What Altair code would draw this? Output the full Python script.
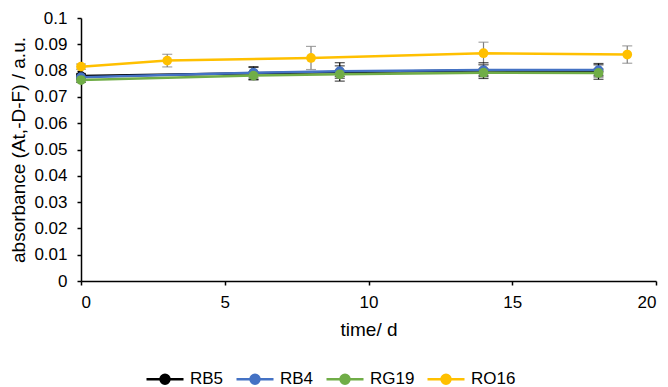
import altair as alt
import pandas as pd

series_names = ["RB5", "RB4", "RG19", "RO16"]
series_colors = ["#000000", "#4472C4", "#70AD47", "#FFC000"]
err_colors = ["#000000", "#000000", "#000000", "#7F7F7F"]

time_rb = [0, 6, 9, 14, 18]
time_ro = [0, 3, 8, 14, 19]

rb5 = [0.0779, 0.0790, 0.0795, 0.0800, 0.0797]
rb5_err = [0.0010, 0.0025, 0.0035, 0.0030, 0.0030]
rb4 = [0.0775, 0.0792, 0.0798, 0.0802, 0.0802]
rb4_err = [0.0010, 0.0020, 0.0020, 0.0020, 0.0020]
rg19 = [0.0764, 0.0781, 0.0786, 0.0792, 0.0791]
rg19_err = [0.0008, 0.0015, 0.0015, 0.0015, 0.0015]
ro16 = [0.0815, 0.0838, 0.0848, 0.0866, 0.0861]
ro16_err = [0.0010, 0.0024, 0.0044, 0.0042, 0.0033]

rows = []
for name, t, v, e, ec in [
    ("RB5", time_rb, rb5, rb5_err, err_colors[0]),
    ("RB4", time_rb, rb4, rb4_err, err_colors[1]),
    ("RG19", time_rb, rg19, rg19_err, err_colors[2]),
    ("RO16", time_ro, ro16, ro16_err, err_colors[3]),
]:
    for ti, vi, ei in zip(t, v, e):
        rows.append({"series": name, "time": ti, "value": vi,
                     "lo": vi - ei, "hi": vi + ei, "ecol": ec})
df = pd.DataFrame(rows)

color_scale = alt.Scale(domain=series_names, range=series_colors)
x_scale = alt.Scale(domain=[0, 20])
y_scale = alt.Scale(domain=[0, 0.1])
x_axis = alt.Axis(values=[0, 5, 10, 15, 20], title="time/ d")
y_axis = alt.Axis(values=[round(i * 0.01, 2) for i in range(11)],
                  title="absorbance (At,-D-F) / a.u.", format="~g",
                  labelOverlap=False)

def X(f):
    return alt.X(f, scale=x_scale, axis=x_axis)

def Y(f):
    return alt.Y(f, scale=y_scale, axis=y_axis)

legend = alt.Legend(
    title=None, orient="none", direction="horizontal",
    legendX=64, legendY=341, symbolSize=1369, labelFontSize=17,
    labelFont="Liberation Sans", columnPadding=7, labelOffset=5,
    labelColor="#000000", symbolStrokeWidth=2.5, symbolOpacity=1,
    symbolType="M-1,0H1M0.243,0A0.243,0.243,0,1,1,-0.243,0A0.243,0.243,0,1,1,0.243,0Z",
)

base = alt.Chart(df)
err = base.mark_rule(strokeWidth=1.2).encode(
    x=X("time:Q"), y=Y("lo:Q"), y2="hi:Q", color=alt.Color("ecol:N", scale=None))
cap_hi = base.mark_tick(thickness=1.2, size=10, orient="horizontal").encode(
    x=X("time:Q"), y=Y("hi:Q"), color=alt.Color("ecol:N", scale=None))
cap_lo = base.mark_tick(thickness=1.2, size=10, orient="horizontal").encode(
    x=X("time:Q"), y=Y("lo:Q"), color=alt.Color("ecol:N", scale=None))

layers = []
for name in series_names:
    sub = alt.Chart(df[df.series == name])
    line = sub.mark_line(strokeWidth=2.5, opacity=1).encode(
        x=X("time:Q"), y=Y("value:Q"),
        color=alt.Color("series:N", scale=color_scale, legend=legend,
                        sort=series_names))
    pts = sub.mark_circle(size=95, opacity=1).encode(
        x=X("time:Q"), y=Y("value:Q"),
        fill=alt.Fill("series:N", scale=color_scale, legend=legend,
                      sort=series_names))
    layers += [line, pts]

chart = alt.layer(err, cap_hi, cap_lo, *layers).properties(
    width=575, height=263,
    autosize=alt.AutoSizeParams(type="none"),
    padding={"left": 81, "top": 18, "right": 12, "bottom": 106},
).configure(background="white").configure_view(stroke=None).configure_axis(
    grid=False, domainColor="#000000", domainWidth=1.5,
    tickColor="#000000", tickWidth=1.5, tickSize=4,
    labelFont="Liberation Sans", labelFontSize=17, labelColor="#000000",
    titleFont="Liberation Sans", titleFontSize=19, titleFontWeight="normal",
    titleColor="#000000",
).configure_axisY(titlePadding=5, labelPadding=10).configure_axisX(
    titlePadding=10, labelPadding=9
).configure_legend(symbolOpacity=1)

chart.save("out.html", embed_options={"renderer": "svg", "actions": False})
